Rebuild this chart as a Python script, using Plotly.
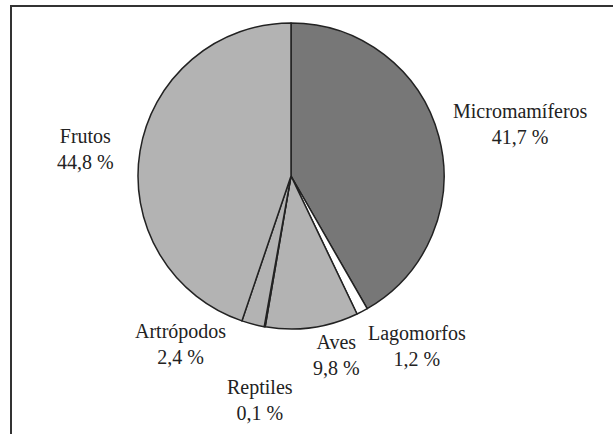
import plotly.graph_objects as go

# Data
categories = ["Micromamíferos", "Lagomorfos", "Aves", "Reptiles", "Artrópodos", "Frutos"]
values = [41.7, 1.2, 9.8, 0.1, 2.4, 44.8]
slice_colors = ["#777777", "#ffffff", "#b3b3b3", "#b3b3b3", "#b3b3b3", "#b3b3b3"]

# Label anchor positions in pixels (layout)
label_px = [(520, 124), (417, 346), (336, 355), (260, 400), (180, 344), (85, 149)]

W, H = 613, 434

fig = go.Figure()
fig.add_trace(go.Pie(
    labels=categories,
    values=values,
    sort=False,
    direction="clockwise",
    rotation=0,
    textinfo="none",
    marker=dict(colors=slice_colors, line=dict(color="#222222", width=1.5)),
    domain=dict(x=[138 / W, 444 / W], y=[(H - 329) / H, (H - 23) / H]),
    showlegend=False,
))

annotations = []
for cat, val, (px, py) in zip(categories, values, label_px):
    pct = f"{val:.1f}".replace(".", ",") + " %"
    annotations.append(dict(
        text=f"{cat}<br>{pct}",
        x=px / W, y=1 - py / H, xref="paper", yref="paper",
        xanchor="center", yanchor="middle", showarrow=False,
        font=dict(family="Liberation Serif", size=20, color="#222222"),
    ))

fig.update_layout(
    width=W, height=H,
    margin=dict(l=0, r=0, t=0, b=0),
    paper_bgcolor="white",
    plot_bgcolor="white",
    font=dict(family="Liberation Serif"),
    annotations=annotations,
    shapes=[dict(
        type="rect", xref="paper", yref="paper",
        x0=11 / W, x1=1.05, y0=-0.05, y1=1 - 6 / H,
        line=dict(color="#333333", width=2), fillcolor="rgba(0,0,0,0)",
    )],
)

fig.write_html(
    "out.html",
    config={"displayModeBar": False},
    post_script="document.body.style.margin='0';document.body.style.overflow='hidden';",
)
